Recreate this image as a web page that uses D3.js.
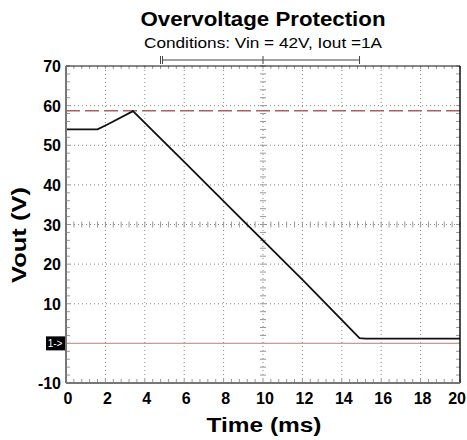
<!DOCTYPE html>
<html>
<head>
<meta charset="utf-8">
<script src="https://cdn.jsdelivr.net/npm/d3@7"></script>
<style>
  body { margin: 0; background: #fff; }
  text { font-family: "Liberation Sans", Arial, sans-serif; }
</style>
</head>
<body>
<div id="chart"></div>
<script>
// 波形データ (ms, V)
const timeMs = [0, 1.6, 2.0, 2.2, 3.4, 6.0, 9.0, 12.0, 14.9, 15.2, 20];
const vout   = [54, 54, 55, 55.5, 58.6, 45.8, 30.9, 16.1, 1.3, 1.2, 1.2];
const xTicks = [0, 2, 4, 6, 8, 10, 12, 14, 16, 18, 20];
const yTicks = [-10, 0, 10, 20, 30, 40, 50, 60, 70];
const limitV = 58.7;   // 赤破線 (OVP レベル)
const groundV = 0;     // 1-> マーカー

const width = 467, height = 440;
const margin = { left: 66, right: 7, top: 66, bottom: 57 };

const svg = d3.select("#chart").append("svg")
  .attr("width", width).attr("height", height);

const x = d3.scaleLinear().domain([0, 20]).range([margin.left, width - margin.right]);
const y = d3.scaleLinear().domain([-10, 70]).range([height - margin.bottom, margin.top]);

const x0 = x(0), x1 = x(20), y0 = y(-10), y1 = y(70);

// タイトル
svg.append("text").attr("x", 263).attr("y", 26)
  .attr("text-anchor", "middle").attr("font-size", 21).attr("font-weight", "bold")
  .attr("textLength", 245).attr("lengthAdjust", "spacingAndGlyphs")
  .text("Overvoltage Protection");
svg.append("text").attr("x", 263).attr("y", 48)
  .attr("text-anchor", "middle").attr("font-size", 15)
  .attr("textLength", 238).attr("lengthAdjust", "spacingAndGlyphs")
  .text("Conditions: Vin = 42V, Iout =1A");

// 上部カーソルバー
const cur = svg.append("g").attr("stroke", "#444").attr("stroke-width", 1);
cur.append("line").attr("x1", x(4.9)).attr("x2", x(14.9)).attr("y1", 60).attr("y2", 60);
[x(4.9) - 2, x(4.9), x(10), x(14.9)].forEach(px => {
  cur.append("line").attr("x1", px).attr("x2", px).attr("y1", 56).attr("y2", 64);
});

// グリッド (点線)
const grid = svg.append("g").attr("stroke", "#888").attr("stroke-width", 1)
  .attr("stroke-dasharray", "1,3");
xTicks.slice(1, -1).forEach(t => {
  grid.append("line").attr("x1", x(t)).attr("x2", x(t)).attr("y1", y1).attr("y2", y0);
});
yTicks.slice(1, -1).forEach(t => {
  grid.append("line").attr("x1", x0).attr("x2", x1).attr("y1", y(t)).attr("y2", y(t));
});

// 中心線の目盛り
const minor = svg.append("g").attr("stroke", "#999").attr("stroke-width", 1);
d3.range(0, 20.01, 0.4).forEach(t => {
  minor.append("line").attr("x1", x(t)).attr("x2", x(t)).attr("y1", y(30) - 3).attr("y2", y(30) + 3);
  minor.append("line").attr("x1", x(t)).attr("x2", x(t)).attr("y1", y1).attr("y2", y1 + 3);
  minor.append("line").attr("x1", x(t)).attr("x2", x(t)).attr("y1", y0).attr("y2", y0 - 4);
});
d3.range(-10, 70.01, 2).forEach(v => {
  minor.append("line").attr("x1", x(10) - 3).attr("x2", x(10) + 3).attr("y1", y(v)).attr("y2", y(v));
  minor.append("line").attr("x1", x0).attr("x2", x0 + 4).attr("y1", y(v)).attr("y2", y(v));
  minor.append("line").attr("x1", x1).attr("x2", x1 - 4).attr("y1", y(v)).attr("y2", y(v));
});

// 0V ライン
svg.append("line").attr("x1", x0).attr("x2", x1).attr("y1", y(groundV)).attr("y2", y(groundV))
  .attr("stroke", "#c89a9a").attr("stroke-width", 1.2);

// 赤破線
svg.append("line").attr("x1", x0).attr("x2", x1).attr("y1", y(limitV)).attr("y2", y(limitV))
  .attr("stroke", "#a86060").attr("stroke-width", 1.5).attr("stroke-dasharray", "14,5");

// 波形
const pts = timeMs.map((t, i) => [t, vout[i]]);
svg.append("path").datum(pts)
  .attr("fill", "none").attr("stroke", "#111").attr("stroke-width", 1.8)
  .attr("d", d3.line().x(d => x(d[0])).y(d => y(d[1])));

// 枠
svg.append("line").attr("x1", x0).attr("x2", x1).attr("y1", y1).attr("y2", y1).attr("stroke", "#111");
svg.append("line").attr("x1", x1).attr("x2", x1).attr("y1", y1).attr("y2", y0).attr("stroke", "#111").attr("stroke-width", 1.5);
svg.append("line").attr("x1", x0).attr("x2", x0).attr("y1", y1).attr("y2", y0).attr("stroke", "#777").attr("stroke-width", 2);
svg.append("line").attr("x1", x0).attr("x2", x1).attr("y1", y0).attr("y2", y0).attr("stroke", "#777").attr("stroke-width", 2);

// 軸ラベル
svg.append("g").selectAll("text").data(xTicks).enter().append("text")
  .attr("x", d => d === 20 ? width - 1 : x(d) + 2).attr("y", y0 + 21)
  .attr("text-anchor", d => d === 20 ? "end" : "middle")
  .attr("font-size", 16).attr("font-weight", "bold")
  .text(d => d);
svg.append("g").selectAll("text").data(yTicks).enter().append("text")
  .attr("x", x0 - 5).attr("y", d => y(d) + 6)
  .attr("text-anchor", "end").attr("font-size", 16).attr("font-weight", "bold")
  .text(d => d === 0 ? "" : d);

svg.append("text").attr("x", 264).attr("y", 432)
  .attr("text-anchor", "middle").attr("font-size", 21).attr("font-weight", "bold")
  .attr("textLength", 115).attr("lengthAdjust", "spacingAndGlyphs")
  .text("Time (ms)");
svg.append("text").attr("transform", `translate(26,${235}) rotate(-90)`)
  .attr("text-anchor", "middle").attr("font-size", 21).attr("font-weight", "bold")
  .attr("textLength", 96).attr("lengthAdjust", "spacingAndGlyphs")
  .text("Vout (V)");

// 1-> マーカー
svg.append("rect").attr("x", x0 - 20).attr("y", y(groundV) - 7).attr("width", 19).attr("height", 14)
  .attr("fill", "#000");
svg.append("text").attr("x", x0 - 11).attr("y", y(groundV) + 4)
  .attr("text-anchor", "middle").attr("font-size", 10).attr("fill", "#fff")
  .text("1->");
</script>
</body>
</html>
